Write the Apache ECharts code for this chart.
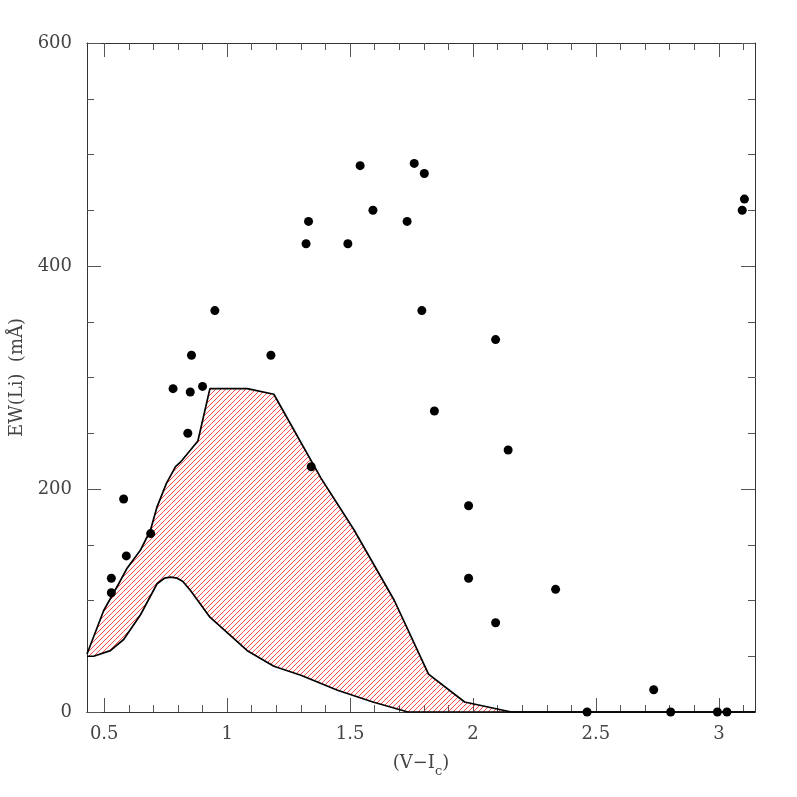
<!DOCTYPE html>
<html>
<head>
<meta charset="utf-8">
<script src="https://cdn.jsdelivr.net/npm/echarts@6/dist/echarts.min.js"></script>
<style>
  html, body { margin: 0; padding: 0; background: #fff; }
  #chart { width: 797px; height: 797px; }
</style>
</head>
<body>
<div id="chart"></div>
<script>
// axis ranges and ticks
const xMin = 0.43;
const xMax = 3.147;
const xMajor = [0.5, 1, 1.5, 2, 2.5, 3];
const xMinor = [0.6, 0.7, 0.8, 0.9, 1.1, 1.2, 1.3, 1.4, 1.6, 1.7, 1.8, 1.9,
  2.1, 2.2, 2.3, 2.4, 2.6, 2.7, 2.8, 2.9, 3.1];

// stars: (V-Ic) colour and EW(Li)
const starVI = [0.529, 0.529, 0.579, 0.59, 0.689, 0.78, 0.84, 0.85, 0.855, 0.90,
  0.95, 1.178, 1.321, 1.331, 1.342, 1.491, 1.541, 1.593, 1.732, 1.761, 1.792,
  1.802, 1.843, 1.982, 1.982, 2.092, 2.092, 2.143, 2.336, 2.464, 2.735, 2.804,
  2.994, 3.033, 3.095, 3.104];
const starEW = [107, 120, 191, 140, 160, 290, 250, 287, 320, 292,
  360, 320, 420, 440, 220, 420, 490, 450, 440, 492, 360,
  483, 270, 185, 120, 334, 80, 235, 110, 0, 20, 0,
  0, 0, 450, 460];

// upper edge of the hatched band
const upperVI = [0.43, 0.498, 0.559, 0.593, 0.647, 0.688, 0.715, 0.753, 0.79,
  0.81, 0.881, 0.93, 1.082, 1.19, 1.381, 1.517, 1.68, 1.819, 1.966, 2.156, 3.147];
const upperEW = [52, 91, 115, 129, 145, 163, 184, 205, 220,
  224, 243, 290, 290, 285, 210, 163, 100, 34, 9, 0, 0];

// lower edge of the hatched band
const lowerVI = [0.43, 0.457, 0.525, 0.579, 0.647, 0.715, 0.745, 0.77, 0.797,
  0.82, 0.851, 0.93, 1.082, 1.19, 1.3, 1.449, 1.593, 1.735, 3.147];
const lowerEW = [50, 50, 55, 65, 87, 115, 120, 121, 120,
  117, 109, 85, 55, 41, 33, 19.5, 9, 0, 0];

const pairs = (xs, ys) => xs.map((x, i) => [x, ys[i]]);

// red diagonal hatching
function hatch() {
  const n = 5;
  const c = document.createElement("canvas");
  c.width = n;
  c.height = n;
  const ctx = c.getContext("2d");
  ctx.strokeStyle = "rgba(255,40,40,0.85)";
  ctx.lineWidth = 1;
  ctx.beginPath();
  ctx.moveTo(-1, n + 1); ctx.lineTo(n + 1, -1);
  ctx.moveTo(-1, 1); ctx.lineTo(1, -1);
  ctx.moveTo(n - 1, n + 1); ctx.lineTo(n + 1, n - 1);
  ctx.stroke();
  return c;
}

const font = "DejaVu Serif";
const textColor = "#444";
const axisColor = "#333";

const chart = echarts.init(document.getElementById("chart"));

function xAxisDef(pos, ticks, len, labels) {
  return {
    type: "value",
    position: pos,
    min: xMin,
    max: xMax,
    axisLine: { show: true, onZero: false, lineStyle: { color: axisColor, width: 1 } },
    axisTick: { show: true, inside: true, length: len, customValues: ticks,
      lineStyle: { color: "#555", width: 1 } },
    axisLabel: labels
      ? { show: true, customValues: ticks, fontFamily: font, fontSize: 18,
          color: textColor, margin: 13 }
      : { show: false },
    splitLine: { show: false },
  };
}

function yAxisDef(pos, labels) {
  return {
    type: "value",
    position: pos,
    min: 0,
    max: 600,
    interval: 200,
    axisLine: { show: true, lineStyle: { color: axisColor, width: 1 } },
    axisTick: { show: true, inside: true, length: 14, lineStyle: { color: "#555", width: 1 } },
    minorTick: { show: true, splitNumber: 4, length: 7, lineStyle: { color: "#555", width: 1 } },
    axisLabel: labels
      ? { show: true, fontFamily: font, fontSize: 18, color: textColor, margin: 15 }
      : { show: false },
    splitLine: { show: false },
  };
}

const xBottom = xAxisDef("bottom", xMajor, 14, true);
xBottom.name = "(V\u2212I{s|c})";
xBottom.nameLocation = "middle";
xBottom.nameGap = 42;
xBottom.nameTextStyle = {
  fontFamily: font, fontSize: 18, color: textColor,
  rich: { s: { fontFamily: font, fontSize: 13, color: textColor, verticalAlign: "bottom", padding: [0, 0, -6, 0] } },
};

const yLeft = yAxisDef("left", true);
yLeft.name = "EW(Li)  (m\u00c5)";
yLeft.nameLocation = "middle";
yLeft.nameGap = 60;
yLeft.nameRotate = 90;
yLeft.nameTextStyle = { fontFamily: font, fontSize: 18, color: textColor };

chart.setOption({
  animation: false,
  backgroundColor: "#fff",
  grid: { left: 87, right: 42, top: 43, bottom: 85, outerBoundsMode: "none", containLabel: false },
  xAxis: [
    xBottom,
    xAxisDef("bottom", xMinor, 7, false),
    xAxisDef("top", xMajor, 14, false),
    xAxisDef("top", xMinor, 7, false),
  ],
  yAxis: [yLeft, yAxisDef("right", false)],
  series: [
    {
      type: "custom",
      xAxisIndex: 0,
      yAxisIndex: 0,
      clip: true,
      data: [[xMin, 0]],
      renderItem: (params, api) => {
        const pts = pairs(upperVI, upperEW)
          .concat(pairs(lowerVI, lowerEW).reverse())
          .map((p) => api.coord(p));
        return {
          type: "polygon",
          shape: { points: pts },
          style: { fill: { image: hatch(), repeat: "repeat" }, stroke: null },
        };
      },
      z: 1,
    },
    {
      type: "line",
      data: pairs(upperVI, upperEW),
      showSymbol: false,
      lineStyle: { color: "#000", width: 1.7 },
      z: 3,
    },
    {
      type: "line",
      data: pairs(lowerVI, lowerEW),
      showSymbol: false,
      lineStyle: { color: "#000", width: 1.7 },
      z: 3,
    },
    {
      type: "scatter",
      data: pairs(starVI, starEW),
      symbolSize: 9,
      itemStyle: { color: "#000", opacity: 1 },
      z: 4,
    },
  ],
});
</script>
</body>
</html>
